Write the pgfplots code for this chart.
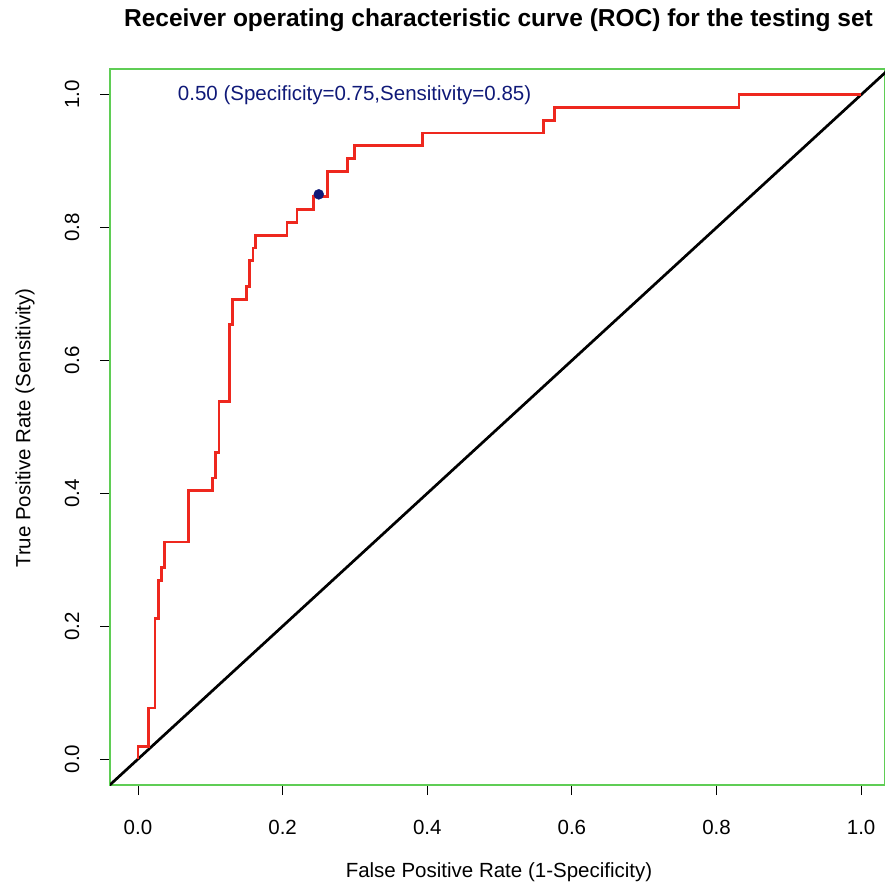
\documentclass[border=0pt]{standalone}
\usepackage{pgfplots}
\pgfplotsset{compat=1.18}
\usepackage{fontspec}
\setmainfont{Liberation Sans}

\definecolor{rocred}{RGB}{238,40,30}
\definecolor{framegreen}{RGB}{95,205,85}
\definecolor{thrblue}{RGB}{15,25,120}

\begin{document}
\begin{tikzpicture}
\begin{axis}[
    name=roc,
    at={(0pt,0pt)}, anchor=south west,
    scale only axis,
    width=775pt, height=716pt,
    xmin=-0.0387, xmax=1.033,
    ymin=-0.039, ymax=1.0387,
    xtick={0,0.2,0.4,0.6,0.8,1.0},
    ytick={0,0.2,0.4,0.6,0.8,1.0},
    xtick pos=bottom, ytick pos=left,
    tick align=outside,
    major tick length=10pt,
    tick style={black, line width=0.8pt},
    axis line style={framegreen, line width=1.3pt},
    /pgf/number format/assume math mode=true,
    /pgf/number format/.cd, fixed, fixed zerofill, precision=1,
    /pgfplots/.cd,
    ticklabel style={font=\fontsize{20.5}{23}\selectfont},
    xticklabel style={anchor=center, yshift=-32pt},
    yticklabel style={rotate=90, anchor=center, yshift=28pt},
    clip=true,
]
% chance line
\addplot[black, line width=2.7pt] coordinates {(-0.1,-0.1) (1.1,1.1)};
% ROC curve
\addplot[rocred, line width=2.8pt, line join=miter] coordinates {
(0,0) (0,0.0192) (0.015,0.0192) (0.015,0.0769) (0.0235,0.0769) (0.0235,0.2115)
(0.028,0.2115) (0.028,0.2692) (0.033,0.2692) (0.033,0.2885) (0.037,0.2885) (0.037,0.3269)
(0.070,0.3269) (0.070,0.4038) (0.103,0.4038) (0.103,0.4231) (0.107,0.4231) (0.107,0.4615)
(0.112,0.4615) (0.112,0.5385) (0.126,0.5385) (0.126,0.6538) (0.131,0.6538) (0.131,0.6923)
(0.150,0.6923) (0.150,0.7115) (0.154,0.7115) (0.154,0.7500) (0.159,0.7500) (0.159,0.7692)
(0.162,0.7692) (0.162,0.7885) (0.206,0.7885) (0.206,0.8077) (0.220,0.8077) (0.220,0.8269)
(0.243,0.8269) (0.243,0.8462) (0.262,0.8462) (0.262,0.8846) (0.290,0.8846) (0.290,0.9038)
(0.299,0.9038) (0.299,0.9231) (0.393,0.9231) (0.393,0.9423) (0.561,0.9423) (0.561,0.9615)
(0.576,0.9615) (0.576,0.9808) (0.831,0.9808) (0.831,1.0) (1.0,1.0)
};
% best threshold
\addplot[only marks, mark=*, mark size=5pt, thrblue] coordinates {(0.25,0.85)};
\node[anchor=west, text=thrblue, font=\fontsize{20.5}{23}\selectfont, inner sep=0pt]
    at (axis cs:0.055,1.0) {0.50 (Specificity=0.75,Sensitivity=0.85)};
\end{axis}
\node[font=\bfseries\fontsize{24.5}{28}\selectfont] at (388.5pt,765pt)
    {Receiver operating characteristic curve (ROC) for the testing set};
\node[font=\fontsize{20.5}{23}\selectfont] at (389pt,-87pt)
    {False Positive Rate (1-Specificity)};
\node[rotate=90, font=\fontsize{20.5}{23}\selectfont] at (-85pt,357pt)
    {True Positive Rate (Sensitivity)};
\pgfresetboundingbox
\path[use as bounding box] (-110pt,-99pt) rectangle (775pt,785pt);
\end{tikzpicture}
\end{document}
